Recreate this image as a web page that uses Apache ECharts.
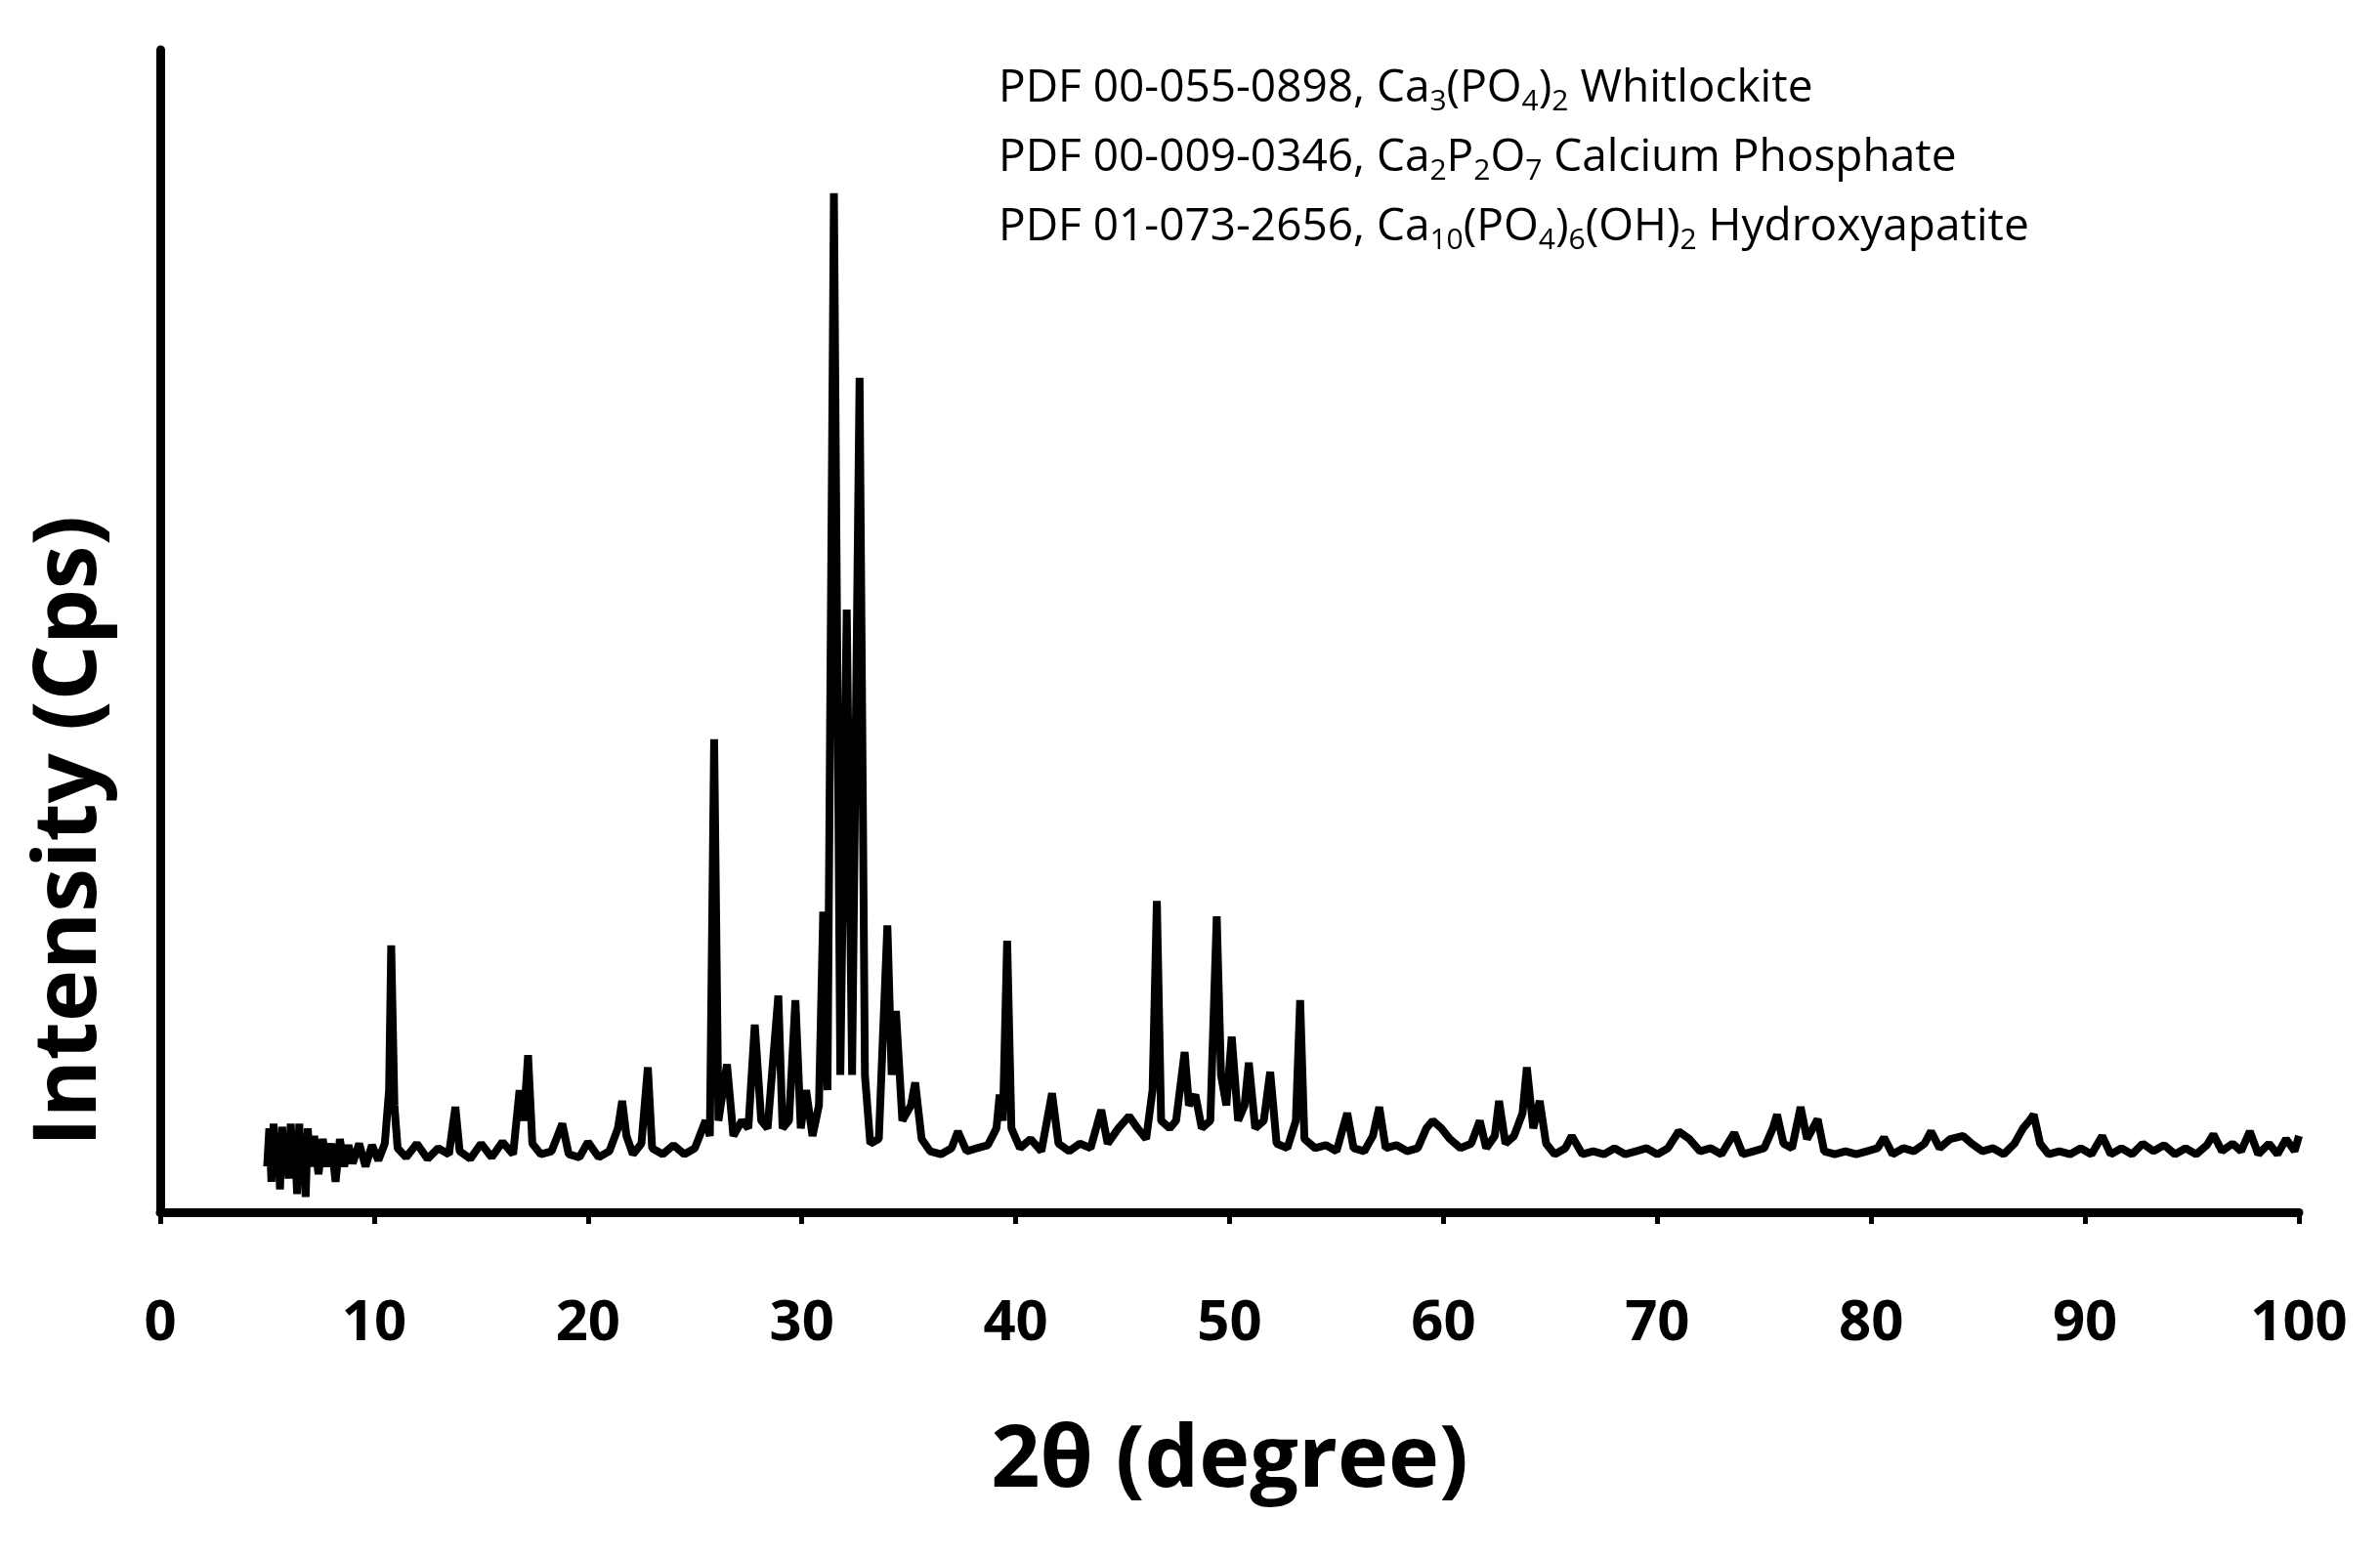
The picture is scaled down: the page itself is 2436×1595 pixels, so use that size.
<!DOCTYPE html>
<html>
<head>
<meta charset="utf-8">
<script src="https://cdn.jsdelivr.net/npm/echarts@6/dist/echarts.min.js"></script>
<style>html,body{margin:0;padding:0;background:#fff}#chart{width:2436px;height:1595px}</style>
</head>
<body>
<div id="chart"></div>
<script>
// XRD scan: [2θ, intensity (arbitrary units)]
const scanPoints = [
  [5.0,30],[5.1,55],[5.2,20],[5.3,58],[5.4,25],[5.5,50],[5.6,15],[5.7,56],[5.8,30],[5.9,52],[6.0,22],[6.1,58],[6.2,35],[6.3,45],[6.4,12],[6.5,58],[6.6,28],[6.7,50],[6.8,10],[6.9,55],[7.0,30],[7.2,50],[7.4,25],[7.6,48],[7.8,30],[8.0,45],[8.2,20],[8.4,48],[8.6,30],[8.8,44],[9.0,32],[9.3,45],[9.6,30],[9.9,44],[10.2,34],[10.5,45],
  [10.7,80],[10.8,175],[10.95,70],[11.1,42],[11.5,36],[12.0,45],[12.5,35],[13.0,42],[13.5,38],[13.8,69],[14.0,40],[14.5,35],[15.0,45],[15.5,36],[16.0,46],[16.5,38],
  [16.8,80],[17.0,60],[17.2,103],[17.4,45],[17.8,38],[18.3,40],[18.8,58],[19.1,38],[19.6,36],[20.0,46],[20.5,36],[21.0,40],[21.4,55],[21.6,73],[21.8,50],[22.1,38],[22.5,45],[22.8,95],[23.0,42],[23.5,38],[24.0,44],[24.5,38],[25.0,42],[25.5,60],[25.7,50],
  [25.9,310],[26.1,60],[26.5,97],[26.8,50],[27.2,60],[27.5,55],[27.8,123],[28.1,60],[28.4,55],[28.9,142],[29.1,55],[29.4,60],[29.7,139],[29.95,55],[30.2,80],[30.5,50],[30.8,70],[31.0,197],[31.2,80],
  [31.5,668],[31.8,90],[32.1,395],[32.35,90],[32.7,547],[32.95,90],[33.2,45],[33.6,48],[34.0,188],[34.2,90],[34.4,132],[34.7,60],[35.1,70],[35.3,85],[35.6,48],[36.0,40],[36.5,38],[37.0,42],[37.3,53],[37.7,40],[38.2,42],[38.7,44],[39.1,55],[39.25,77],[39.4,60],[39.6,178],[39.8,55],[40.2,42],[40.7,48],[41.2,40],[41.7,78],[42.0,45],[42.5,40],[43.0,45],[43.5,42],[44.0,67],[44.3,45],[44.8,55],[45.3,63],[45.7,55],[46.1,48],
  [46.4,80],[46.6,204],[46.8,60],[47.2,55],[47.5,60],[47.9,105],[48.1,70],[48.4,77],[48.7,55],[49.1,60],[49.4,194],[49.6,90],[49.85,70],[50.1,115],[50.4,60],[50.7,70],[50.9,98],[51.2,55],[51.6,60],[51.9,92],[52.2,45],[52.7,42],[53.1,60],[53.3,139],[53.5,48],[54.0,42],[54.5,44],[55.0,40],[55.5,65],[55.8,42],[56.3,40],[56.7,50],[57.0,69],[57.3,42],[57.8,44],[58.3,40],[58.8,42],[59.2,55],[59.5,60],[59.9,55],[60.3,48],[60.8,42],[61.3,45],[61.7,60],[62.0,42],[62.4,50],[62.6,73],[62.9,45],[63.3,50],[63.7,65],[63.9,95],[64.2,55],[64.5,73],[64.8,45],[65.2,38],[65.7,42],[66.0,50],[66.5,38],[67.0,40],[67.5,38],[68.0,42],[68.5,38],[69.0,40],[69.5,42],[70.0,38],[70.5,42],[71.0,53],[71.5,48],[72.0,40],[72.5,42],[73.0,38],[73.6,52],[74.0,38],[74.5,40],[75.0,42],[75.4,55],[75.6,64],[75.9,45],[76.3,42],[76.7,69],[77.0,48],[77.5,61],[77.8,40],[78.3,38],[78.8,40],[79.3,38],[79.8,40],[80.3,42],[80.6,49],[81.0,38],[81.5,42],[82.0,40],[82.5,45],[82.8,53],[83.2,42],[83.7,48],[84.3,50],[84.7,45],[85.2,40],[85.7,42],[86.2,38],[86.7,45],[87.1,55],[87.4,60],[87.6,64],[87.9,45],[88.3,38],[88.8,40],[89.3,38],[89.8,42],[90.3,38],[90.8,50],[91.2,38],[91.7,42],[92.2,38],[92.7,45],[93.2,40],[93.7,44],[94.2,38],[94.7,42],[95.2,38],[95.7,44],[96.0,51],[96.4,40],[96.9,45],[97.3,40],[97.7,53],[98.1,38],[98.6,45],[99.0,38],[99.4,48],[99.8,40],[100.0,50]
];

const xTicks = [0, 10, 20, 30, 40, 50, 60, 70, 80, 90, 100];
const phaseLines = [
  ['PDF 00-055-0898, Ca', {sub: '3'}, '(PO', {sub: '4'}, ')', {sub: '2'}, ' Whitlockite'],
  ['PDF 00-009-0346, Ca', {sub: '2'}, 'P', {sub: '2'}, 'O', {sub: '7'}, ' Calcium Phosphate'],
  ['PDF 01-073-2656, Ca', {sub: '10'}, '(PO', {sub: '4'}, ')', {sub: '6'}, '(OH)', {sub: '2'}, ' Hydroxyapatite']
];

function richLine(parts) {
  return parts.map(p => typeof p === 'string' ? '{n|' + p + '}' : '{s|' + p.sub + '}').join('');
}

const chart = echarts.init(document.getElementById('chart'));
chart.setOption({
  backgroundColor: '#fff',
  animation: false,
  grid: { left: 164, right: 83, top: 51, bottom: 354 },
  xAxis: {
    type: 'value', min: 0, max: 100, interval: 10,
    axisLine: { lineStyle: { color: '#000', width: 9 } },
    axisTick: { show: true, length: 12, lineStyle: { color: '#000', width: 5 } },
    splitLine: { show: false },
    axisLabel: { color: '#000', fontSize: 58, fontWeight: 'bold', fontFamily: 'Open Sans', margin: 85,
      formatter: v => xTicks.includes(v) ? String(v) : '' },
    name: '2θ (degree)', nameLocation: 'middle', nameGap: 212,
    nameTextStyle: { color: '#000', fontSize: 88, fontWeight: 'bold', fontFamily: 'Open Sans' }
  },
  yAxis: {
    type: 'value', min: 0, max: 762,
    axisLine: { show: true, lineStyle: { color: '#000', width: 9 } },
    axisTick: { show: false }, axisLabel: { show: false }, splitLine: { show: false }
  },
  graphic: [{
    type: 'text', x: 72, y: 851, rotation: Math.PI / 2,
    style: { text: 'Intensity (Cps)', fontSize: 90, fontWeight: 'bold', fontFamily: 'Open Sans',
      fill: '#000', align: 'center', verticalAlign: 'middle' }
  }].concat(phaseLines.map((parts, i) => ({
    type: 'text', left: 1022, top: 68 + i * 71,
    style: {
      text: richLine(parts),
      rich: {
        n: { fontSize: 46, fontFamily: 'Open Sans', fill: '#000' },
        s: { fontSize: 30, fontFamily: 'Open Sans', fill: '#000', verticalAlign: 'bottom', padding: [26, 0, 0, 0] }
      }
    }
  }))),
  series: [{
    type: 'line', data: scanPoints, showSymbol: false,
    lineStyle: { color: '#000', width: 8 }
  }]
});
</script>
</body>
</html>
